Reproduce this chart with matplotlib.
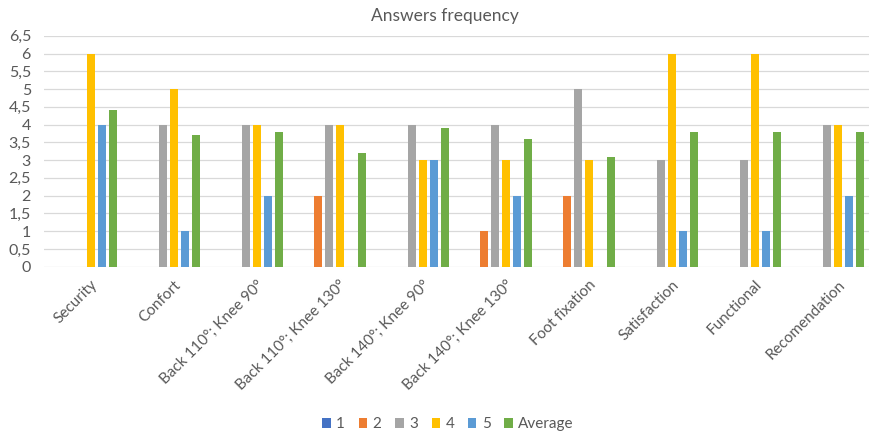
import matplotlib
matplotlib.use("Agg")
import matplotlib.pyplot as plt
import matplotlib.transforms as mtransforms
import numpy as np

categories = ["Security", "Confort", "Back 110°; Knee 90°", "Back 110°; Knee 130°",
              "Back 140°; Knee 90°", "Back 140°; Knee 130°", "Foot fixation",
              "Satisfaction", "Functional", "Recomendation"]
series_names = ["1", "2", "3", "4", "5", "Average"]
s1 = [0, 0, 0, 0, 0, 0, 0, 0, 0, 0]
s2 = [0, 0, 0, 2, 0, 1, 2, 0, 0, 0]
s3 = [0, 4, 4, 4, 4, 4, 5, 3, 3, 4]
s4 = [6, 5, 4, 4, 3, 3, 3, 6, 6, 4]
s5 = [4, 1, 2, 0, 3, 2, 0, 1, 1, 2]
avg = [4.4, 3.7, 3.8, 3.2, 3.9, 3.6, 3.1, 3.8, 3.8, 3.8]
colors = ["#4472C4", "#ED7D31", "#A5A5A5", "#FFC000", "#5B9BD5", "#70AD47"]
yticks = [0, 0.5, 1, 1.5, 2, 2.5, 3, 3.5, 4, 4.5, 5, 5.5, 6, 6.5]

plt.rcParams['font.family'] = ['Lato', 'DejaVu Sans']
fig = plt.figure(figsize=(8.7, 4.34), dpi=100)
ax = fig.add_axes([0.050, 0.3855, 0.955, 0.532])

x = np.arange(len(categories))
step = 0.133
bw = 0.097
all_series = [s1, s2, s3, s4, s5, avg]
for i, (vals, name, c) in enumerate(zip(all_series, series_names, colors)):
    ax.bar(x + (i - 2.5) * step, vals, width=bw, color=c, label=name, zorder=3)

ax.set_xlim(-0.5, len(categories) - 0.5)
ax.set_ylim(0, 6.5)
ax.set_yticks(yticks)
ax.set_yticklabels([("%g" % v).replace(".", ",") for v in yticks], color="#595959", fontsize=11.5)
ax.grid(axis="y", color="#D9D9D9", linewidth=0.9, zorder=0)
for sp in ax.spines.values():
    sp.set_visible(False)
ax.tick_params(axis="both", length=0)
ax.tick_params(axis="y", pad=9)
ax.set_xticks(x)
ax.set_xticklabels(categories, rotation=45, ha="right", rotation_mode="anchor",
                   color="#595959", fontsize=11)
ax.tick_params(axis="x", pad=8)
offset = mtransforms.ScaledTranslation(5 / 100, 0, fig.dpi_scale_trans)
for lab in ax.get_xticklabels():
    lab.set_transform(lab.get_transform() + offset)

fig.text(0.511, 0.962, "Answers frequency", ha="center", va="center", color="#595959", fontsize=12.5)

leg = fig.legend(loc="center", bbox_to_anchor=(0.515, 0.022), ncol=6, frameon=False,
                 fontsize=11, handlelength=0.55, handleheight=0.55, handletextpad=0.35,
                 columnspacing=0.9, labelcolor="#595959")

fig.savefig("out.png", dpi=100)
